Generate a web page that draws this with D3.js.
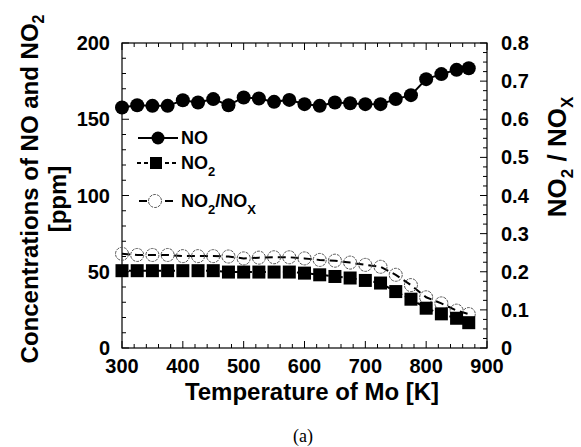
<!DOCTYPE html>
<html><head><meta charset="utf-8">
<script src="https://cdn.jsdelivr.net/npm/d3@7"></script>
<style>body{margin:0;background:#fff}svg{display:block}</style>
</head><body>
<svg id="c" width="581" height="447"></svg>
<script>
const temps = [300,325,350,375,400,425,450,475,500,525,550,575,600,625,650,675,700,725,750,775,800,825,850,870];
const noVals = [157.7,159.2,158.8,158.8,162.5,161,163.2,159.2,164.3,163.6,161.4,162.7,159.9,158.8,161,160.5,159.9,159.9,163.2,165.8,176.3,179.6,182.4,183.4];
const no2Vals = [50.7,50.7,50.7,50.7,50.7,50.7,50.7,49.8,49.8,49.8,49.8,49.8,49.1,48,46.9,45.9,44.3,42.6,37.0,32.0,26.1,22.4,19.5,16.6];
const ratioVals = [0.247,0.244,0.244,0.244,0.241,0.241,0.241,0.240,0.235,0.237,0.238,0.238,0.235,0.231,0.229,0.224,0.218,0.213,0.192,0.165,0.133,0.117,0.098,0.089];
const xTicks = [300,400,500,600,700,800,900];
const yLeftTicks = [0,50,100,150,200];
const yRightTicks = [0,0.1,0.2,0.3,0.4,0.5,0.6,0.7,0.8];

const svg = d3.select("#c");
const L=122,R=487,T=43,B=348;
const x = d3.scaleLinear().domain([300,900]).range([L,R]);
const yl = d3.scaleLinear().domain([0,200]).range([B,T]);
const yr = d3.scaleLinear().domain([0,0.8]).range([B,T]);
const font = "'Liberation Sans', Arial, sans-serif";

// ticks (inward)
const g = svg.append("g").attr("stroke","#000").attr("stroke-width",1);
d3.range(300,901,20).forEach(v=>{
  const major = v%100===0, len = major?7:4;
  g.append("line").attr("x1",x(v)).attr("x2",x(v)).attr("y1",B).attr("y2",B-len);
  g.append("line").attr("x1",x(v)).attr("x2",x(v)).attr("y1",T).attr("y2",T+len);
});
d3.range(0,201,10).forEach(v=>{
  const major = v%50===0, len = major?7:4;
  g.append("line").attr("x1",L).attr("x2",L+len).attr("y1",yl(v)).attr("y2",yl(v));
});
d3.range(0,33).forEach(i=>{
  const v=i*0.025, major = i%4===0, len = major?7:4;
  g.append("line").attr("x1",R).attr("x2",R-len).attr("y1",yr(v)).attr("y2",yr(v));
});
svg.append("rect").attr("x",L).attr("y",T).attr("width",R-L).attr("height",B-T)
  .attr("fill","none").attr("stroke","#000").attr("stroke-width",1.2);

// tick labels
const tl = svg.append("g").attr("font-family",font).attr("font-weight","bold").attr("font-size",20).attr("fill","#000");
xTicks.forEach(v=>tl.append("text").attr("x",x(v)).attr("y",B+25).attr("text-anchor","middle").text(v));
yLeftTicks.forEach(v=>tl.append("text").attr("x",L-12).attr("y",yl(v)).attr("dy","0.35em").attr("text-anchor","end").text(v));
yRightTicks.forEach(v=>tl.append("text").attr("x",R+14).attr("y",yr(v)).attr("dy","0.35em").attr("text-anchor","start").text(v===0?"0":v.toFixed(1)));

// axis titles
svg.append("text").attr("x",312).attr("y",400).attr("text-anchor","middle")
  .attr("font-family",font).attr("font-weight","bold").attr("font-size",24).text("Temperature of Mo [K]");
const yt = svg.append("text").attr("transform","translate(38,189) rotate(-90)").attr("text-anchor","middle")
  .attr("font-family",font).attr("font-weight","bold").attr("font-size",24);
yt.append("tspan").text("Concentrations of NO and NO");
yt.append("tspan").attr("dy",6).attr("font-size",16).text("2");
svg.append("text").attr("transform","translate(66,199) rotate(-90)").attr("text-anchor","middle")
  .attr("font-family",font).attr("font-weight","bold").attr("font-size",24).text("[ppm]");
const rt = svg.append("text").attr("transform","translate(566,157) rotate(-90)").attr("text-anchor","middle")
  .attr("font-family",font).attr("font-weight","bold").attr("font-size",26);
rt.append("tspan").text("NO");
rt.append("tspan").attr("dy",7).attr("font-size",17).text("2");
rt.append("tspan").attr("dy",-7).text(" / NO");
rt.append("tspan").attr("dy",7).attr("font-size",17).text("X");

// caption
svg.append("text").attr("x",303).attr("y",442).attr("text-anchor","middle")
  .attr("font-family","'Liberation Serif', 'Times New Roman', serif").attr("font-size",18).text("(a)");

// lines
const lineL = d3.line().x((d,i)=>x(temps[i])).y(d=>yl(d));
const lineR = d3.line().x((d,i)=>x(temps[i])).y(d=>yr(d));
svg.append("path").attr("d",lineR(ratioVals)).attr("fill","none").attr("stroke","#000").attr("stroke-width",2).attr("stroke-dasharray","8,5");
svg.append("path").attr("d",lineL(no2Vals)).attr("fill","none").attr("stroke","#000").attr("stroke-width",2).attr("stroke-dasharray","4,3");
svg.append("path").attr("d",lineL(noVals)).attr("fill","none").attr("stroke","#000").attr("stroke-width",2);

// markers
svg.append("g").selectAll("circle").data(ratioVals).join("circle")
  .attr("cx",(d,i)=>x(temps[i])).attr("cy",d=>yr(d)).attr("r",6.5)
  .attr("fill","none").attr("stroke","#555").attr("stroke-width",1).attr("stroke-dasharray","3,1");
svg.append("g").selectAll("rect").data(no2Vals).join("rect")
  .attr("x",(d,i)=>x(temps[i])-6.5).attr("y",d=>yl(d)-6.5).attr("width",13).attr("height",13).attr("fill","#000");
svg.append("g").selectAll("circle").data(noVals).join("circle")
  .attr("cx",(d,i)=>x(temps[i])).attr("cy",d=>yl(d)).attr("r",7).attr("fill","#000");

// legend
const lg = svg.append("g").attr("font-family",font).attr("font-weight","bold").attr("font-size",18);
lg.append("line").attr("x1",138).attr("x2",178).attr("y1",138).attr("y2",138).attr("stroke","#000").attr("stroke-width",2);
lg.append("circle").attr("cx",158).attr("cy",138).attr("r",6.5).attr("fill","#000");
lg.append("text").attr("x",181).attr("y",144).text("NO");
lg.append("line").attr("x1",137).attr("x2",178).attr("y1",163).attr("y2",163).attr("stroke","#000").attr("stroke-width",2).attr("stroke-dasharray","4,3");
lg.append("rect").attr("x",150).attr("y",157).attr("width",12).attr("height",12).attr("fill","#000");
const t2 = lg.append("text").attr("x",181).attr("y",169);
t2.append("tspan").text("NO"); t2.append("tspan").attr("dy",7).attr("font-size",13).text("2");
lg.append("line").attr("x1",139).attr("x2",176).attr("y1",201).attr("y2",201).attr("stroke","#000").attr("stroke-width",2).attr("stroke-dasharray","8,5");
lg.append("circle").attr("cx",155).attr("cy",201).attr("r",6.5).attr("fill","#fff").attr("stroke","#555").attr("stroke-width",1).attr("stroke-dasharray","3,1");
const t3 = lg.append("text").attr("x",181).attr("y",207);
t3.append("tspan").text("NO"); t3.append("tspan").attr("dy",7).attr("font-size",13).text("2");
t3.append("tspan").attr("dy",-7).text("/NO"); t3.append("tspan").attr("dy",7).attr("font-size",13).text("X");
</script>
</body></html>
